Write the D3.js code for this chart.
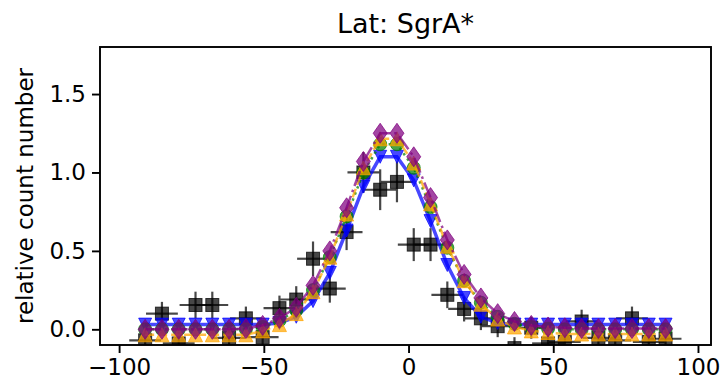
<!DOCTYPE html>
<html>
<head>
<meta charset="utf-8">
<script src="https://cdn.jsdelivr.net/npm/d3@7"></script>
<style>
  body { margin: 0; background: #fff; }
  text { font-family: "DejaVu Sans", sans-serif; fill: #000; }
</style>
</head>
<body>
<div id="chart"></div>
<script>
// bin centres (deg)
var lat = [-91.0, -85.2, -79.4, -73.6, -67.8, -62.0, -56.2, -50.4, -44.6, -38.8, -33.0, -27.2, -21.4, -15.6, -9.8, -4.0,
           1.8, 7.6, 13.4, 19.2, 25.0, 30.8, 36.6, 42.4, 48.2, 54.0, 59.8, 65.6, 71.4, 77.2, 83.0, 88.8];

// observed counts with errors
var obs = [-0.07, 0.10, -0.09, 0.155, 0.155, -0.055, 0.07, -0.05, 0.135, 0.19, 0.45, 0.26, 0.62, 1.00, 0.89, 0.94,
           0.54, 0.54, 0.22, 0.13, 0.07, 0.02, -0.12, 0.01, -0.09, -0.08, 0.05, -0.055, -0.07, 0.07, -0.08, -0.06];
var obsErr = [0.07, 0.075, 0.07, 0.085, 0.085, 0.07, 0.075, 0.07, 0.08, 0.085, 0.11, 0.09, 0.115, 0.13, 0.13, 0.13,
              0.105, 0.105, 0.085, 0.08, 0.075, 0.07, 0.07, 0.07, 0.07, 0.07, 0.075, 0.07, 0.07, 0.075, 0.07, 0.07];
var binHalf = 5.5;

// model curves
var serieAzul = [0.03, 0.03, 0.03, 0.03, 0.03, 0.03, 0.03, 0.03, 0.04, 0.08, 0.18, 0.36, 0.63, 0.91, 1.10, 1.10,
                 0.95, 0.69, 0.41, 0.20, 0.08, 0.04, 0.03, 0.03, 0.03, 0.03, 0.03, 0.03, 0.03, 0.03, 0.03, 0.03];
var serieVerde = [0, 0, 0, 0, 0, 0, 0, 0.015, 0.055, 0.12, 0.25, 0.46, 0.72, 1.00, 1.18, 1.18,
                  1.03, 0.78, 0.52, 0.31, 0.17, 0.08, 0.035, 0.015, 0.005, 0, 0, 0, 0, 0, 0, 0];
var serieNaranja = [-0.035, -0.035, -0.035, -0.035, -0.035, -0.035, -0.035, -0.01, 0.03, 0.10, 0.24, 0.46, 0.735, 1.03, 1.215, 1.215,
                    1.06, 0.80, 0.53, 0.31, 0.16, 0.065, 0.015, -0.01, -0.02, -0.03, -0.03, -0.03, -0.03, -0.03, -0.03, -0.03];
var serieMorada = [0, 0, 0, 0, 0, 0, 0.005, 0.025, 0.07, 0.14, 0.28, 0.50, 0.775, 1.07, 1.25, 1.25,
                   1.10, 0.84, 0.57, 0.35, 0.20, 0.10, 0.05, 0.025, 0.015, 0.01, 0.005, 0.005, 0.005, 0.005, 0.005, 0.005];

var xTicks = [-100, -50, 0, 50, 100];
var yTicks = [0.0, 0.5, 1.0, 1.5];

// parametros de la grafica
var width = 723;
var height = 385;
var margin = {top: 47, right: 12, bottom: 40, left: 100};
var alpha = 0.72;

var xScale = d3.scaleLinear().domain([-106.6, 104.5]).range([margin.left, width - margin.right]);
var yScale = d3.scaleLinear().domain([-0.1, 1.8]).range([height - margin.bottom, margin.top]);

var svg = d3.select("#chart").append("svg")
  .attr("width", width)
  .attr("height", height);

svg.append("clipPath").attr("id", "area")
  .append("rect")
  .attr("x", margin.left).attr("y", margin.top)
  .attr("width", width - margin.left - margin.right)
  .attr("height", height - margin.top - margin.bottom);

var plot = svg.append("g").attr("clip-path", "url(#area)");

/* datos observados: barras de error + cuadrados */
var obsData = lat.map((x, i) => ({x: x, y: obs[i], e: obsErr[i]}));
var gObs = plot.append("g");
gObs.selectAll(".xerr").data(obsData).enter().append("line")
  .attr("x1", d => xScale(d.x - binHalf)).attr("x2", d => xScale(d.x + binHalf))
  .attr("y1", d => yScale(d.y)).attr("y2", d => yScale(d.y))
  .attr("stroke", "#000").attr("stroke-opacity", alpha).attr("stroke-width", 2.2);
gObs.selectAll(".yerr").data(obsData).enter().append("line")
  .attr("x1", d => xScale(d.x)).attr("x2", d => xScale(d.x))
  .attr("y1", d => yScale(d.y - d.e)).attr("y2", d => yScale(d.y + d.e))
  .attr("stroke", "#000").attr("stroke-opacity", alpha).attr("stroke-width", 2.2);
gObs.selectAll("rect").data(obsData).enter().append("rect")
  .attr("x", d => xScale(d.x) - 6.5).attr("y", d => yScale(d.y) - 6.5)
  .attr("width", 13).attr("height", 13)
  .attr("fill", "#000").attr("fill-opacity", alpha)
  .attr("stroke", "#000").attr("stroke-opacity", alpha).attr("stroke-width", 1);

/* marcadores */
function triUp(s) { return `M0,${-s/2}L${-s/2},${s/2}L${s/2},${s/2}Z`; }
function triDown(s) { return `M0,${s/2}L${-s/2},${-s/2}L${s/2},${-s/2}Z`; }
function diamond(w, h) { return `M0,${-h/2}L${w/2},0L0,${h/2}L${-w/2},0Z`; }
function circle(r) { return `M${r},0A${r},${r} 0 1,1 ${-r},0A${r},${r} 0 1,1 ${r},0Z`; }

var series = [
  {values: serieAzul, color: "blue", width: 3.5, dash: null, marker: triDown(13)},
  {values: serieVerde, color: "green", width: 2.5, dash: "2.5,4", marker: circle(6.5)},
  {values: serieNaranja, color: "orange", width: 2.5, dash: "9,4", marker: triUp(14)},
  {values: serieMorada, color: "purple", width: 2.5, dash: "16,4,2.5,4", marker: diamond(14, 20)}
];

var line = d3.line()
  .x(d => xScale(d.x))
  .y(d => yScale(d.y));

series.forEach(function (s) {
  var pts = lat.map((x, i) => ({x: x, y: s.values[i]}));
  var g = plot.append("g");
  g.append("path")
    .attr("d", line(pts))
    .attr("fill", "none")
    .attr("stroke", s.color)
    .attr("stroke-opacity", alpha)
    .attr("stroke-width", s.width)
    .attr("stroke-dasharray", s.dash);
  g.selectAll(".m").data(pts).enter().append("path")
    .attr("d", s.marker)
    .attr("transform", d => `translate(${xScale(d.x)},${yScale(d.y)})`)
    .attr("fill", s.color).attr("fill-opacity", alpha)
    .attr("stroke", s.color).attr("stroke-opacity", alpha).attr("stroke-width", 1);
});

/* ejes */
var xAxis = d3.axisBottom(xScale).tickValues(xTicks).tickSize(8).tickPadding(6).tickFormat(d3.format("d"));
var yAxis = d3.axisLeft(yScale).tickValues(yTicks).tickSize(8).tickPadding(6).tickFormat(d3.format(".1f"));

var gx = svg.append("g")
  .attr("transform", `translate(0, ${height - margin.bottom})`)
  .call(xAxis);
var gy = svg.append("g")
  .attr("transform", `translate(${margin.left}, 0)`)
  .call(yAxis);

[gx, gy].forEach(function (g) {
  g.select(".domain").remove();
  g.selectAll(".tick line").attr("stroke", "#000").attr("stroke-width", 1.9);
  g.selectAll(".tick text")
    .style("font-family", "DejaVu Sans")
    .style("font-size", "23px")
    .attr("fill", "#000");
});

svg.append("rect")
  .attr("x", margin.left).attr("y", margin.top)
  .attr("width", width - margin.left - margin.right)
  .attr("height", height - margin.top - margin.bottom)
  .attr("fill", "none").attr("stroke", "#000").attr("stroke-width", 1.9);

/* titulo y etiqueta */
svg.append("text")
  .attr("x", (margin.left + width - margin.right) / 2)
  .attr("y", 33)
  .attr("text-anchor", "middle")
  .style("font-size", "27px")
  .text("Lat: SgrA*");

svg.append("text")
  .attr("transform", `translate(33, ${(margin.top + height - margin.bottom) / 2}) rotate(-90)`)
  .attr("text-anchor", "middle")
  .style("font-size", "23px")
  .text("relative count number");
</script>
</body>
</html>
